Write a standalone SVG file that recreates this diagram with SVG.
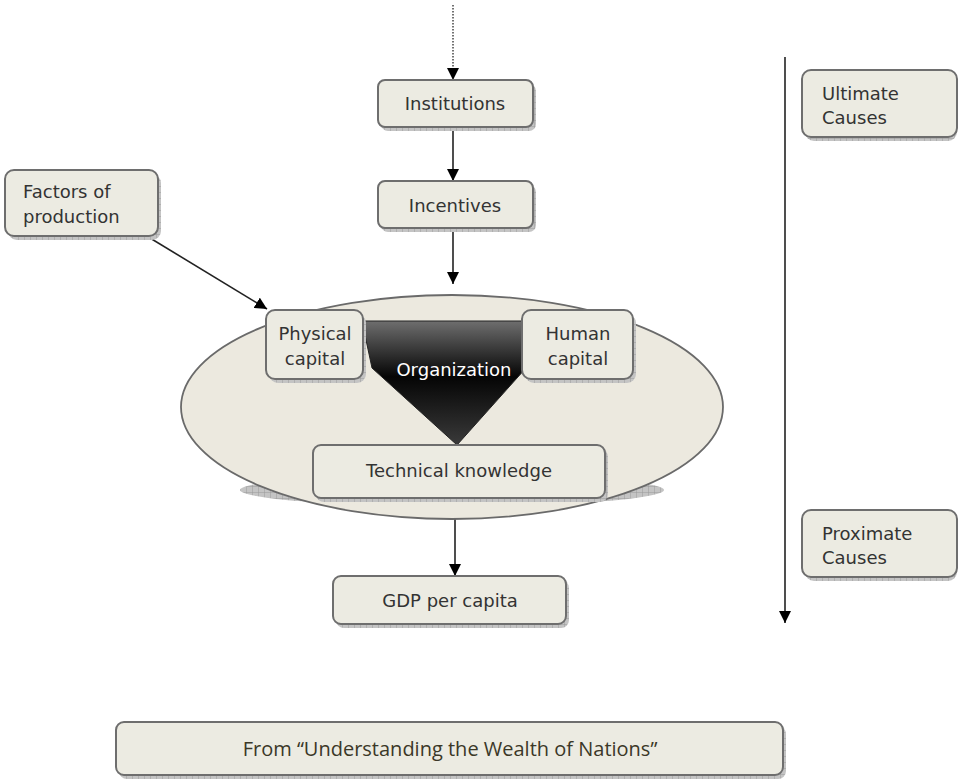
<svg xmlns="http://www.w3.org/2000/svg" width="959" height="783" viewBox="0 0 959 783">
<style>
.box{fill:#ecebe2;stroke:#6e6e6e;stroke-width:2}
.sh{fill:url(#hatch)}
.t{font-family:"DejaVu Sans","Liberation Sans",sans-serif;font-size:18px;fill:#333}
.c{text-anchor:middle}
.ln{stroke:#222;stroke-width:1.6;fill:none}
</style>
<defs>
<pattern id="hatch" width="6" height="6" patternUnits="userSpaceOnUse">
<rect width="6" height="6" fill="#c4c4c4"/>
<path d="M0 0H6M0 0V6" stroke="#9a9a9a" stroke-width="1"/>
</pattern>
<marker id="ah" viewBox="0 0 12 12" refX="12" refY="6" markerWidth="12" markerHeight="12" markerUnits="userSpaceOnUse" orient="auto">
<path d="M0 0L12 6L0 12Z" fill="#000"/>
</marker>
<linearGradient id="org" x1="0" y1="0" x2="0" y2="1">
<stop offset="0" stop-color="#6e6e6e"/>
<stop offset="0.45" stop-color="#050505"/>
<stop offset="1" stop-color="#3a3a3a"/>
</linearGradient>
</defs>

<g id="connectors">
<line x1="453" y1="5" x2="453" y2="80" stroke="#444" stroke-width="1.5" stroke-dasharray="1.5,1.5" marker-end="url(#ah)"/>
<line class="ln" x1="453" y1="127" x2="453" y2="181" marker-end="url(#ah)"/>
<line class="ln" x1="453" y1="228" x2="453" y2="284" marker-end="url(#ah)"/>
<line class="ln" x1="150" y1="238" x2="267" y2="309" marker-end="url(#ah)"/>
<line class="ln" x1="455" y1="519" x2="455" y2="576" marker-end="url(#ah)"/>
<line class="ln" x1="785" y1="57" x2="785" y2="623" marker-end="url(#ah)"/>
</g>

<g id="ellipse-group">
<ellipse cx="452" cy="490" rx="212" ry="16" class="sh"/>
<ellipse cx="452" cy="407" rx="271" ry="112" fill="#ece9df" stroke="#6a6a6a" stroke-width="1.8"/>
</g>

<g id="organization">
<path d="M362 321H522L526 368L457 445L372 368Z" fill="url(#org)" stroke="#222" stroke-width="1"/>
<text x="454" y="376" class="c" style="font-family:'DejaVu Sans','Liberation Sans',sans-serif;font-size:18px;fill:#fff">Organization</text>
</g>

<g id="institutions">
<rect x="381" y="84" width="155" height="47" rx="7" class="sh"/>
<rect x="378" y="80" width="155" height="47" rx="7" class="box"/>
<text x="455" y="110" class="t c">Institutions</text>
</g>

<g id="incentives">
<rect x="381" y="185" width="155" height="47" rx="7" class="sh"/>
<rect x="378" y="181" width="155" height="47" rx="7" class="box"/>
<text x="455" y="212" class="t c">Incentives</text>
</g>

<g id="factors">
<rect x="8" y="174" width="153" height="66" rx="9" class="sh"/>
<rect x="5" y="170" width="153" height="66" rx="9" class="box"/>
<text x="23" y="198" class="t">Factors of</text>
<text x="23" y="223" class="t">production</text>
</g>

<g id="physical">
<rect x="269" y="314" width="97" height="69" rx="9" class="sh"/>
<rect x="266" y="310" width="97" height="69" rx="9" class="box"/>
<text x="315" y="340" class="t c">Physical</text>
<text x="315" y="365" class="t c">capital</text>
</g>

<g id="human">
<rect x="525" y="314" width="111" height="69" rx="9" class="sh"/>
<rect x="522" y="310" width="111" height="69" rx="9" class="box"/>
<text x="578" y="340" class="t c">Human</text>
<text x="578" y="365" class="t c">capital</text>
</g>

<g id="technical">
<rect x="316" y="449" width="292" height="53" rx="8" class="sh"/>
<rect x="313" y="445" width="292" height="53" rx="8" class="box"/>
<text x="459" y="477" class="t c">Technical knowledge</text>
</g>

<g id="gdp">
<rect x="336" y="580" width="233" height="48" rx="8" class="sh"/>
<rect x="333" y="576" width="233" height="48" rx="8" class="box"/>
<text x="450" y="607" class="t c">GDP per capita</text>
</g>

<g id="ultimate">
<rect x="805" y="74" width="152" height="67" rx="9" class="sh"/>
<rect x="802" y="70" width="155" height="67" rx="9" class="box"/>
<text x="822" y="100" class="t">Ultimate</text>
<text x="822" y="124" class="t">Causes</text>
</g>

<g id="proximate">
<rect x="805" y="514" width="152" height="67" rx="9" class="sh"/>
<rect x="802" y="510" width="155" height="67" rx="9" class="box"/>
<text x="822" y="540" class="t">Proximate</text>
<text x="822" y="564" class="t">Causes</text>
</g>

<g id="source">
<rect x="119" y="726" width="667" height="53" rx="8" class="sh"/>
<rect x="116" y="722" width="667" height="53" rx="8" class="box"/>
<text x="450" y="756" class="c" style="font-family:'Open Sans','Liberation Sans',sans-serif;font-size:20px;fill:#3b3828">From “Understanding the Wealth of Nations”</text>
</g>
</svg>
